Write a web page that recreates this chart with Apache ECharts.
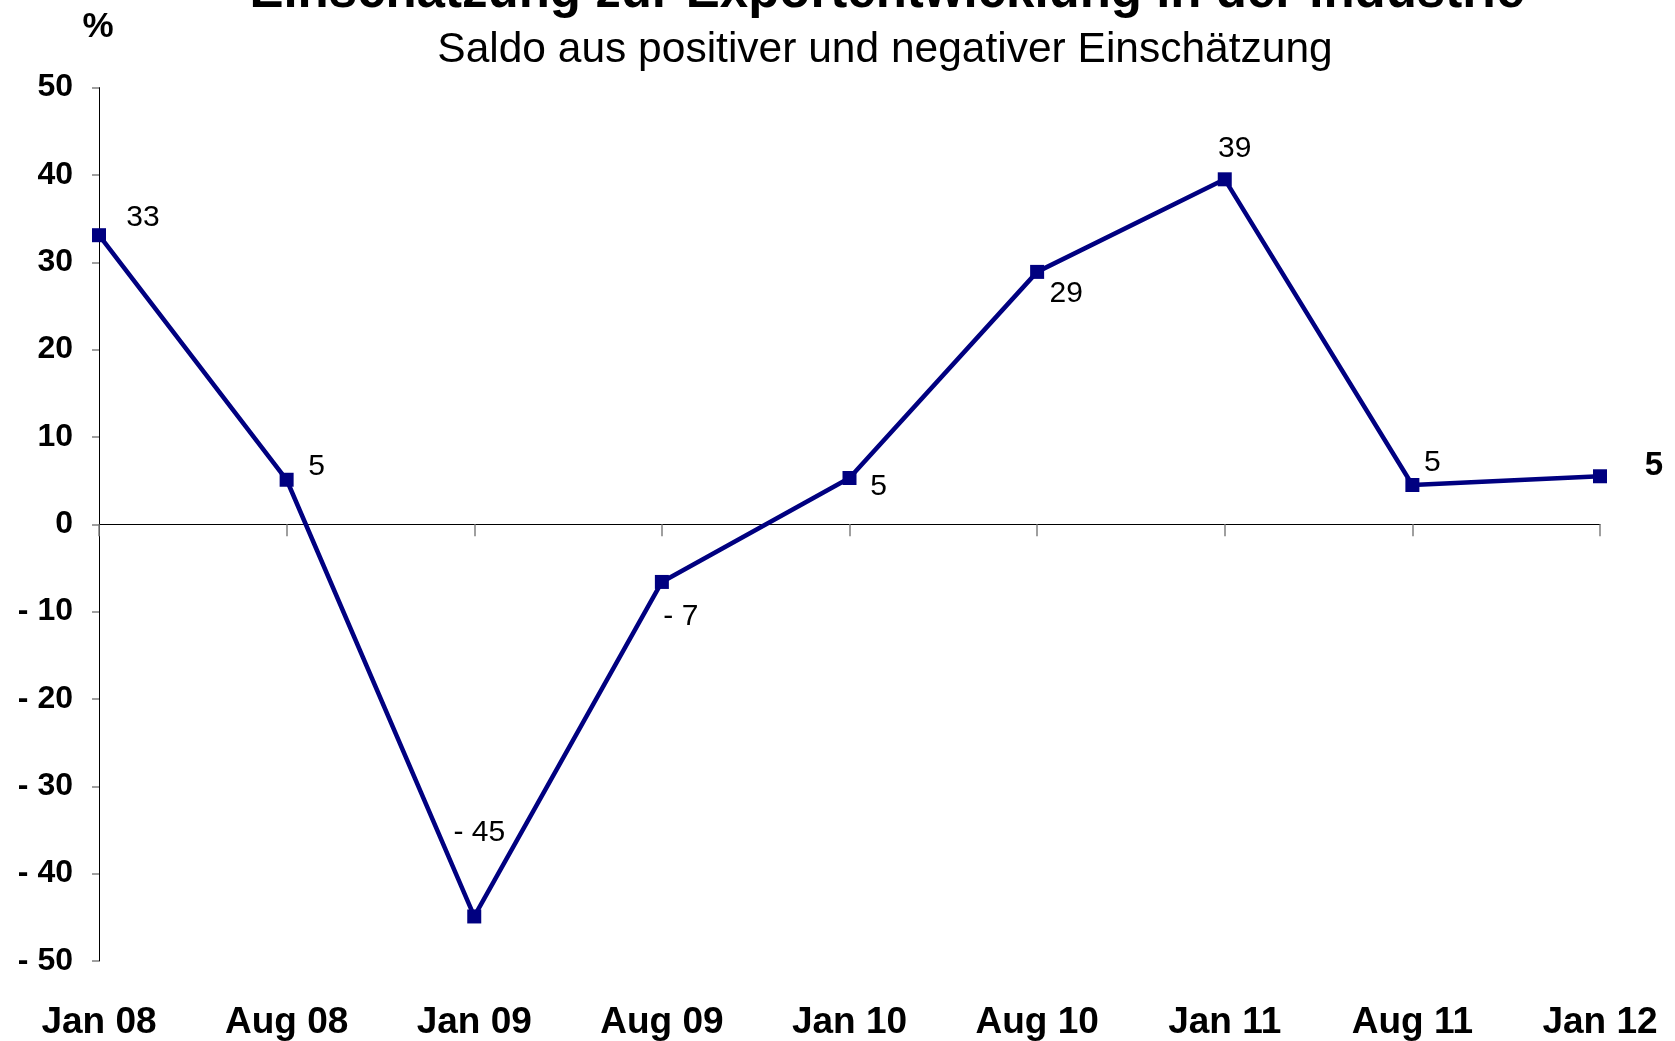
<!DOCTYPE html>
<html>
<head>
<meta charset="utf-8">
<style>
html,body{margin:0;padding:0;background:#fff;}
#chart{width:1675px;height:1041px;}
</style>
<script src="https://cdn.jsdelivr.net/npm/echarts@6/dist/echarts.min.js"></script>
</head>
<body>
<div id="chart"></div>
<script>
const categories = ['Jan 08','Aug 08','Jan 09','Aug 09','Jan 10','Aug 10','Jan 11','Aug 11','Jan 12'];
const values = [33.1, 5.1, -44.9, -6.6, 5.3, 28.9, 39.5, 4.5, 5.5];
const valueLabels = ['33','5','- 45','- 7','5','29','39','5','5'];
const titleText = 'Einschätzung zur Exportentwicklung in der Industrie';
const subtitleText = 'Saldo aus positiver und negativer Einschätzung';
const unitText = '%';

const labelOffsets = [[44,-17],[30,-13],[5,-84],[19,35],[29,9],[29,22],[10,-31],[20,-22],[54,-10]];
const FONT = '"Liberation Sans", Arial, Helvetica, sans-serif';

const chart = echarts.init(document.getElementById('chart'), null, {renderer:'canvas'});

const seriesData = values.map((v, i) => {
  const last = i === values.length - 1;
  return {
    value: v,
    label: {
      show: true,
      position: 'inside',
      offset: labelOffsets[i],
      formatter: valueLabels[i],
      color: '#000',
      fontFamily: FONT,
      fontSize: last ? 33 : 30,
      fontWeight: last ? 'bold' : 'normal',
      align: 'center',
      verticalAlign: 'middle'
    }
  };
});

const option = {
  backgroundColor: '#fff',
  animation: false,
  grid: {left: 99, right: 75, top: 87.6, bottom: 79.6, containLabel: false},
  xAxis: [
    {
      type: 'category', data: categories, boundaryGap: false,
      axisLine: {show: true, onZero: true, lineStyle: {color: '#000', width: 1}},
      axisTick: {show: true, length: 12, inside: false, lineStyle: {color: '#808080', width: 1.5}},
      axisLabel: {show: false},
      splitLine: {show: false}
    },
    {
      type: 'category', data: categories, boundaryGap: false, position: 'bottom',
      axisLine: {show: false, onZero: false},
      axisTick: {show: false},
      axisLabel: {show: true, margin: 43, color: '#000', fontFamily: FONT, fontSize: 37, fontWeight: 'bold'},
      splitLine: {show: false}
    }
  ],
  yAxis: {
    type: 'value', min: -50, max: 50, interval: 10,
    axisLine: {show: true, onZero: false, lineStyle: {color: '#000', width: 1}},
    axisTick: {show: true, length: 7, lineStyle: {color: '#808080', width: 1.5}},
    axisLabel: {
      margin: 26, color: '#000', fontFamily: FONT, fontSize: 32, fontWeight: 'bold',
      formatter: v => v < 0 ? '- ' + Math.abs(v) : String(v)
    },
    splitLine: {show: false}
  },
  series: [{
    type: 'line', xAxisIndex: 0, yAxisIndex: 0,
    data: seriesData,
    symbol: 'rect', symbolSize: 14,
    lineStyle: {color: '#000080', width: 4.5},
    itemStyle: {color: '#000080'},
    z: 5
  }],
  graphic: [
    {type:'text', x: 887, y: -7, style:{text: titleText, font: 'bold 51px ' + FONT, fill:'#000', align:'center', verticalAlign:'middle'}},
    {type:'text', x: 885, y: 50, style:{text: subtitleText, font: '42.5px ' + FONT, fill:'#000', align:'center', verticalAlign:'middle'}},
    {type:'text', x: 98, y: 27, style:{text: unitText, font: 'bold 35px ' + FONT, fill:'#000', align:'center', verticalAlign:'middle'}}
  ]
};
chart.setOption(option);
</script>
</body>
</html>
